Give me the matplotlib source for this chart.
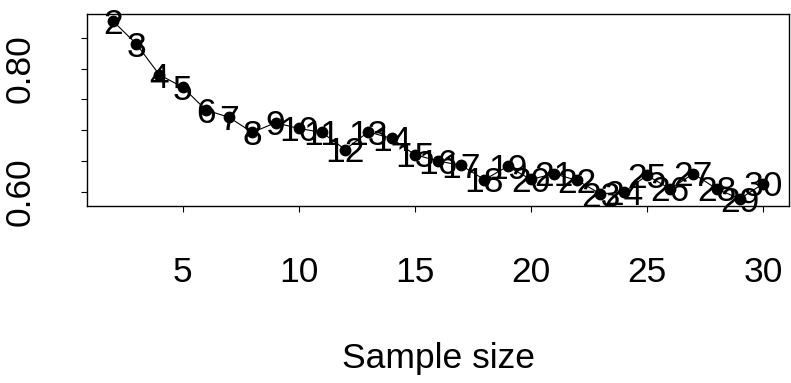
import matplotlib
matplotlib.use("Agg")
import matplotlib.pyplot as plt
import numpy as np

sample_size = list(range(2, 31))
values = [0.8775, 0.8405, 0.790, 0.770, 0.7328, 0.7208, 0.6962, 0.712, 0.7028,
          0.6962, 0.6684, 0.6972, 0.6864, 0.660, 0.6497, 0.6426, 0.6192, 0.641,
          0.6197, 0.629, 0.618, 0.5962, 0.5989, 0.6262, 0.6044, 0.629, 0.6044,
          0.588, 0.6126]
point_labels = [str(s) for s in sample_size]
x_ticks = [5, 10, 15, 20, 25, 30]
y_ticks = [0.60, 0.65, 0.70, 0.75, 0.80, 0.85]
y_tick_labels = ["0.60", "", "", "", "0.80", ""]
x_label = "Sample size"

plt.rcParams['font.family'] = ['Liberation Sans', 'DejaVu Sans']

fig = plt.figure(figsize=(7.91, 3.83), dpi=100)
ax = fig.add_axes([87/791, 1-206/383, (789-87)/791, (206-14)/383])

ax.plot(sample_size, values, color='black', linewidth=0.8, marker='o',
        markersize=7.5, markerfacecolor='black', markeredgecolor='black', zorder=2)
fs_lab = 25.5
for xv, yv, lab in zip(sample_size, values, point_labels):
    ax.annotate(lab, (xv, yv), xytext=(0, -0.358 * fs_lab), textcoords='offset points',
                ha='center', va='baseline', fontsize=fs_lab, color='black', zorder=3)

xr = max(sample_size) - min(sample_size)
ax.set_xlim(min(sample_size) - 0.04*xr, max(sample_size) + 0.04*xr)
yr = max(values) - min(values)
ax.set_ylim(min(values) - 0.04*yr, max(values) + 0.04*yr)

ax.set_xticks(x_ticks)
ax.set_xticklabels([str(t) for t in x_ticks], fontsize=25.5)
ax.set_yticks(y_ticks)
ax.set_yticklabels(y_tick_labels, fontsize=25.5, rotation=90, va='center')
ax.tick_params(axis='x', length=4, width=0.8, pad=32)
ax.tick_params(axis='y', length=4, width=0.8, pad=32)
for s in ax.spines.values():
    s.set_linewidth(1.0)

ax.set_xlabel(x_label, fontsize=25.5, labelpad=38)

fig.savefig("out.png", dpi=100)
